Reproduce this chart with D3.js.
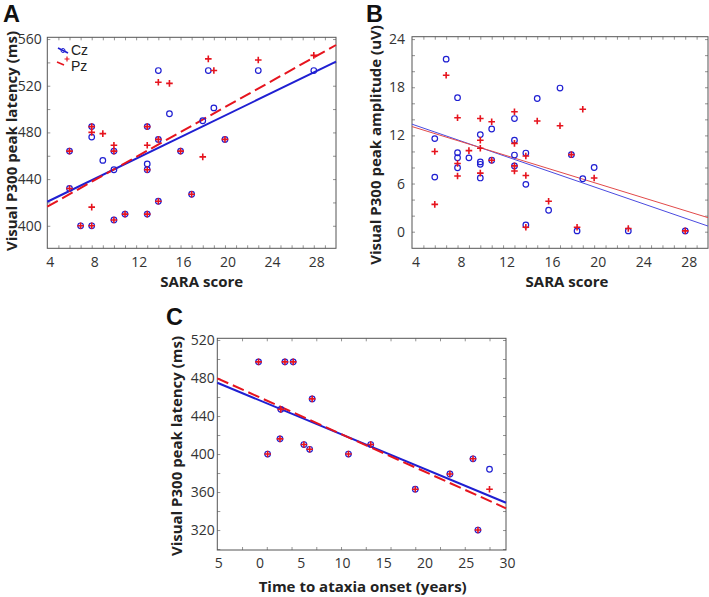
<!DOCTYPE html>
<html><head><meta charset="utf-8">
<script src="https://cdn.jsdelivr.net/npm/d3@7"></script>
<style>body{margin:0;background:#fff} svg{display:block}</style>
</head><body>
<svg id="c" width="709" height="597"></svg>
<script>
// ---------- Panel A: latency vs SARA ----------
const aCz = [[6,464],[6,432],[7,400],[8,400],[8,485],[8,476],[9,456],[10,464],[10,448],[10,405],[11,410],[13,410],[13,485],[13,453],[13,448],[14,533],[14,474],[14,421],[15,496],[16,464],[17,427],[18,490],[18.5,533],[19,501],[20,474],[23,533],[28,533]];
const aPz = [[6,464],[6,432],[7,400],[8,400],[8,485],[8,480],[8,416],[9,479],[10,469],[10,464],[10,405],[11,410],[13,410],[13,485],[13,469],[13,448],[14,523],[14,474],[14,421],[15,522],[16,464],[17,427],[18,459],[18.5,543],[19,533],[20,474],[23,542],[28,546]];
const aFitCz = [[4,420.6],[30,540.6]];
const aFitPz = [[4,416.4],[30,554.9]];
const aXTicks = [4,8,12,16,20,24,28];
const aXLabels = ["4","8","12","16","20","24","28"];
const aYTicks = [400,440,480,520,560];
const aYLabels = ["400","440","480","520","560"];

// ---------- Panel B: amplitude vs SARA ----------
const bCz = [[7,21.5],[8,16.7],[8,9.84],[8,9.22],[8,7.97],[6,11.6],[6,6.8],[9,9.2],[10,12.1],[10,8.7],[10,8.4],[10,6.7],[11,12.8],[11,8.9],[13,14.1],[13,11.4],[13,9.55],[13,8.2],[14,9.8],[14,5.9],[14,0.84],[15,16.6],[16,2.67],[17,17.9],[18,9.6],[19,6.6],[20,8.0],[18.5,0.1],[23,0.1],[28,0.1]];
const bPz = [[7,19.5],[8,14.2],[8,8.5],[8,6.94],[6,10],[6,3.4],[9,10.1],[10,14.1],[10,11.4],[10,10.4],[10,7.3],[11,13.7],[11,8.9],[13,14.95],[13,11.0],[13,8.2],[13,7.56],[14,9.43],[14,7.0],[14,0.55],[15,13.8],[16,3.8],[17,13.2],[18,9.6],[19,15.25],[20,6.7],[18.5,0.55],[23,0.4],[28,0.1]];
const bFitCz = [[4,13.4],[30,0.7]];
const bFitPz = [[4,13.1],[30,1.75]];
const bXTicks = [4,8,12,16,20,24,28];
const bXLabels = ["4","8","12","16","20","24","28"];
const bYTicks = [0,6,12,18,24];
const bYLabels = ["0","6","12","18","24"];

// ---------- Panel C: latency vs time to onset ----------
const cCz = [[0,497],[3.2,497],[4.2,497],[6.5,458],[2.7,447],[2.6,416],[1.1,400],[5.5,410],[6.2,405],[10.9,400],[13.6,410],[19,363],[23.2,379],[26,395],[28,384],[26.6,320]];
const cPz = [[0,497],[3.2,497],[4.2,497],[6.5,458],[2.7,447],[2.6,416],[1.1,400],[5.5,410],[6.2,405],[10.9,400],[13.6,410],[19,363],[23.2,379],[26,395],[28,363],[26.6,320]];
const cFitCz = [[-5,475],[30,348.7]];
const cFitPz = [[-5,479.7],[30,342.9]];
const cXTicks = [-5,0,5,10,15,20,25,30];
const cXLabels = ["5","0","5","10","15","20","25","30"];
const cYTicks = [320,360,400,440,480,520];
const cYLabels = ["320","360","400","440","480","520"];

const BLUE = "#1f1fd2", RED = "#e6141e";
const FONT = "'Open Sans', sans-serif";
const svg = d3.select("#c");

function panel(o){
  const g = svg.append("g");
  const x = d3.scaleLinear().domain(o.xDomain).range([o.left, o.right]);
  const y = d3.scaleLinear().domain(o.yDomain).range([o.bottom, o.top]);

  const tk = (axis, tr) => g.append("g").attr("transform", tr).call(axis)
    .call(s => { s.select(".domain").remove(); s.selectAll("line").attr("stroke", "#777").attr("stroke-width", 0.8); });
  tk(d3.axisBottom(x).tickValues(o.xMinor).tickSize(-3).tickFormat(""), `translate(0,${o.bottom})`);
  tk(d3.axisTop(x).tickValues(o.xMinor).tickSize(-3).tickFormat(""), `translate(0,${o.top})`);
  tk(d3.axisLeft(y).tickValues(o.yMinor).tickSize(-3).tickFormat(""), `translate(${o.left},0)`);
  tk(d3.axisRight(y).tickValues(o.yMinor).tickSize(-3).tickFormat(""), `translate(${o.right},0)`);

  g.append("rect").attr("x", o.left).attr("y", o.top)
    .attr("width", o.right - o.left).attr("height", o.bottom - o.top)
    .attr("fill", "none").attr("stroke", "#555").attr("stroke-width", 1);

  const xa = g.append("g").attr("transform", `translate(0,${o.bottom})`)
    .call(d3.axisBottom(x).tickValues(o.xTicks).tickSize(0).tickFormat((d, i) => o.xLabels[i]));
  xa.select(".domain").remove();
  xa.attr("font-family", FONT).attr("font-size", 14);
  xa.selectAll("text").attr("y", 13.5).attr("dy", "0.35em").attr("dx", o.xdx).attr("fill", "#333");

  const ya = g.append("g").attr("transform", `translate(${o.left},0)`)
    .call(d3.axisLeft(y).tickValues(o.yTicks).tickSize(0).tickPadding(o.ypad).tickFormat((d, i) => o.yLabels[i]));
  ya.select(".domain").remove();
  ya.attr("font-family", FONT).attr("font-size", 14);
  ya.selectAll("text").attr("fill", "#333");

  // titles
  g.append("text").attr("x", (o.left + o.right) / 2 + o.xtdx).attr("y", o.xtY)
    .attr("text-anchor", "middle").attr("dominant-baseline", "central")
    .attr("font-family", FONT).attr("font-weight", "bold").attr("font-size", 15).attr("fill", "#222")
    .text(o.xTitle);
  g.append("text").attr("transform", `translate(${o.ytX},${o.ytY}) rotate(-90)`)
    .attr("text-anchor", "middle").attr("dominant-baseline", "central")
    .attr("font-family", FONT).attr("font-weight", "bold").attr("font-size", 15).attr("fill", "#222")
    .text(o.yTitle);
  g.append("text").attr("x", o.letterX).attr("y", o.letterY)
    .attr("font-family", "'Liberation Sans', Arial, sans-serif").attr("font-weight", "bold")
    .attr("font-size", 23.5).attr("fill", "#111").text(o.letter);

  // fit lines
  const line = d3.line().x(d => x(d[0])).y(d => y(d[1]));
  g.append("path").datum(o.fitCz).attr("d", line).attr("fill", "none")
    .attr("stroke", o.thin ? "#4b4be0" : BLUE).attr("stroke-width", o.thin ? 1 : 2);
  g.append("path").datum(o.fitPz).attr("d", line).attr("fill", "none")
    .attr("stroke", o.thin ? "#e24a4a" : RED).attr("stroke-width", o.thin ? 1 : 2)
    .attr("stroke-dasharray", o.thin ? null : "12,5");

  // markers
  g.append("g").selectAll("circle").data(o.cz).join("circle")
    .attr("cx", d => x(d[0])).attr("cy", d => y(d[1])).attr("r", 2.8)
    .attr("fill", "none").attr("stroke", BLUE).attr("stroke-width", 1.2);
  g.append("g").selectAll("path").data(o.pz).join("path")
    .attr("d", d => `M${x(d[0]) - 3.3},${y(d[1])}H${x(d[0]) + 3.3}M${x(d[0])},${y(d[1]) - 3.3}V${y(d[1]) + 3.3}`)
    .attr("stroke", RED).attr("stroke-width", 1.6).attr("fill", "none");
  return g;
}

const gA = panel({
  left: 47.3, right: 336, top: 37.3, bottom: 248.3,
  xDomain: [4, 30], yDomain: [380.7, 561.5],
  xTicks: aXTicks, xLabels: aXLabels, yTicks: aYTicks, yLabels: aYLabels,
  xMinor: d3.range(5, 30, 1), yMinor: d3.range(400, 561, 20),
  xdx: 2.5, ypad: 5.5,
  xTitle: "SARA score", xtY: 281, xtdx: 10,
  yTitle: "Visual P300 peak latency (ms)", ytX: 11, ytY: 141,
  letter: "A", letterX: 3, letterY: 21.5,
  cz: aCz, pz: aPz, fitCz: aFitCz, fitPz: aFitPz, thin: false
});
// legend (panel A)
const LFONT = "'Liberation Sans', Arial, sans-serif";
gA.append("line").attr("x1", 58).attr("y1", 48).attr("x2", 68).attr("y2", 53).attr("stroke", BLUE).attr("stroke-width", 1.6);
gA.append("circle").attr("cx", 63).attr("cy", 50.5).attr("r", 2).attr("fill", "none").attr("stroke", BLUE).attr("stroke-width", 1);
gA.append("text").attr("x", 71).attr("y", 49.5).attr("dominant-baseline", "central")
  .attr("font-family", LFONT).attr("font-size", 14).attr("fill", "#222").text("Cz");
gA.append("line").attr("x1", 57).attr("y1", 62).attr("x2", 64).attr("y2", 65).attr("stroke", RED).attr("stroke-width", 1.6);
gA.append("path").attr("d", "M64.5,59H69.5M67,56.5V61.5").attr("stroke", RED).attr("stroke-width", 1.2);
gA.append("text").attr("x", 71).attr("y", 66).attr("dominant-baseline", "central")
  .attr("font-family", LFONT).attr("font-size", 14).attr("fill", "#222").text("Pz");

panel({
  left: 412, right: 708, top: 36.7, bottom: 248.3,
  xDomain: [4, 30], yDomain: [-2.07, 24.3],
  xTicks: bXTicks, xLabels: bXLabels, yTicks: bYTicks, yLabels: bYLabels,
  xMinor: d3.range(5, 30, 1), yMinor: d3.range(0, 24.1, 2),
  xdx: 3.5, ypad: 7,
  xTitle: "SARA score", xtY: 281, xtdx: 7,
  yTitle: "Visual P300 peak amplitude (uV)", ytX: 375, ytY: 145,
  letter: "B", letterX: 366, letterY: 21.5,
  cz: bCz, pz: bPz, fitCz: bFitCz, fitPz: bFitPz, thin: true
});

panel({
  left: 217.3, right: 506, top: 338.3, bottom: 550,
  xDomain: [-5, 30], yDomain: [299, 521.8],
  xTicks: cXTicks, xLabels: cXLabels, yTicks: cYTicks, yLabels: cYLabels,
  xMinor: d3.range(-2, 30, 3), yMinor: d3.range(300, 521, 20),
  xdx: 1, ypad: 2.5,
  xTitle: "Time to ataxia onset (years)", xtY: 586, xtdx: 1,
  yTitle: "Visual P300 peak latency (ms)", ytX: 176, ytY: 446,
  letter: "C", letterX: 166, letterY: 325,
  cz: cCz, pz: cPz, fitCz: cFitCz, fitPz: cFitPz, thin: false
});
</script>
</body></html>
